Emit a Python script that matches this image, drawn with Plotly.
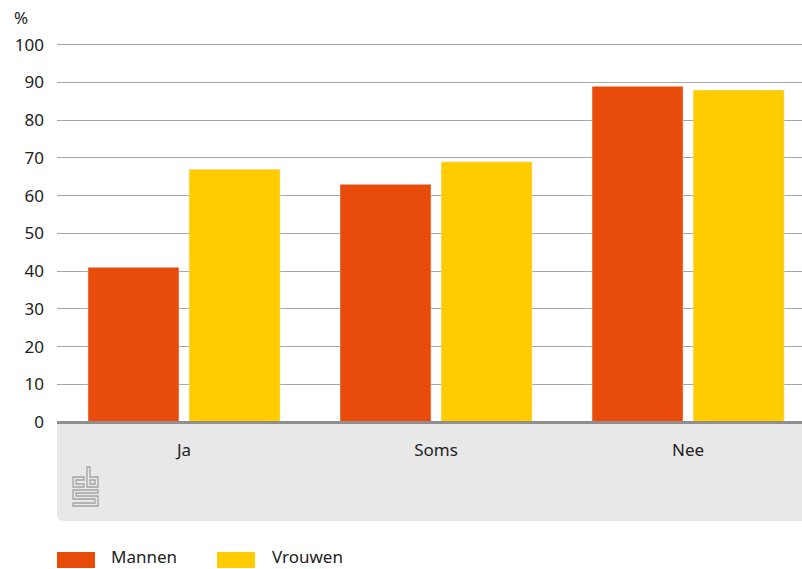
import plotly.graph_objects as go

categories = ["Ja", "Soms", "Nee"]
mannen = [41, 63, 89]
vrouwen = [67, 69, 88]
series_names = ["Mannen", "Vrouwen"]
y_ticks = [0, 10, 20, 30, 40, 50, 60, 70, 80, 90, 100]

ORANGE = "#e94c0a"
YELLOW = "#ffcc00"
FONT = "Noto Sans"
W, H = 802, 569
L, R, T, B = 57, 0, 41, 147
PW, PH = W - L - R, H - T - B


def px(x):
    return (x - L) / PW


def py(y):
    return (H - B - y) / PH


fig = go.Figure()
fig.add_trace(go.Bar(x=categories, y=mannen, name=series_names[0], marker_color=ORANGE))
fig.add_trace(go.Bar(x=categories, y=vrouwen, name=series_names[1], marker_color=YELLOW))

shapes = []
# grey band below axis with rounded bottom-left corner
r = 7
bx0, bx1, by0, by1 = 57, 802, 422, 521
path = (f"M {px(bx0)},{py(by0)} L {px(bx1)},{py(by0)} L {px(bx1)},{py(by1)} "
        f"L {px(bx0 + r)},{py(by1)} Q {px(bx0)},{py(by1)} {px(bx0)},{py(by1 - r)} Z")
shapes.append(dict(type="path", xref="paper", yref="paper", path=path,
                   fillcolor="#e8e8e8", line=dict(width=0), layer="below"))
# zero line
shapes.append(dict(type="line", xref="paper", yref="paper", x0=px(57), x1=px(802),
                   y0=py(422.5), y1=py(422.5), line=dict(color="#8f8f8f", width=3), layer="above"))

# CBS logo (outline)
ox, oy = 73, 467


def lp(pts):
    s = "M " + " L ".join(f"{px(ox + a)},{py(oy + b)}" for a, b in pts) + " Z"
    return s


logo_paths = [
    [(0, 10), (11, 10), (11, 13), (3, 13), (3, 17), (11, 17), (11, 20), (0, 20)],
    [(14, 0), (17, 0), (17, 10), (25, 10), (25, 20), (14, 20)],
    [(17, 13), (22, 13), (22, 17), (17, 17)],
    [(0, 23), (25, 23), (25, 26), (3, 26), (3, 29), (25, 29), (25, 39), (0, 39),
     (0, 36), (22, 36), (22, 32), (0, 32)],
]
for p in logo_paths:
    shapes.append(dict(type="path", xref="paper", yref="paper", path=lp(p),
                       line=dict(color="#a3a3a3", width=1.3), fillcolor="rgba(0,0,0,0)"))

# legend swatches
legend_items = [(57, 110, ORANGE, series_names[0]), (217, 271, YELLOW, series_names[1])]
annotations = []
for sx, tx, col, name in legend_items:
    shapes.append(dict(type="rect", xref="paper", yref="paper", x0=px(sx), x1=px(sx + 38),
                       y0=py(552), y1=py(568), fillcolor=col, line=dict(width=0)))
    annotations.append(dict(text=name, xref="paper", yref="paper", x=px(tx), y=py(569),
                            xanchor="left", yanchor="bottom", showarrow=False, borderpad=0,
                            font=dict(family=FONT, size=17, color="#222222")))

annotations.append(dict(text="%", xref="paper", yref="paper", x=px(12), y=py(18),
                        xanchor="left", yanchor="middle", showarrow=False,
                        font=dict(family=FONT, size=17, color="#222222")))

fig.update_layout(
    width=W, height=H,
    margin=dict(l=L, r=R, t=T, b=B, autoexpand=False),
    paper_bgcolor="white", plot_bgcolor="white",
    barmode="group", bargap=0.198, bargroupgap=0.099,
    showlegend=False,
    font=dict(family=FONT, size=17, color="#222222"),
    shapes=shapes, annotations=annotations,
    xaxis=dict(range=[-0.504, 2.452], showgrid=False, zeroline=False, showline=False,
               ticks="", ticklabelstandoff=16, tickfont=dict(size=17)),
    yaxis=dict(range=[0, 101], tickvals=y_ticks, showgrid=True, gridcolor="#a6a6a6",
               gridwidth=1, zeroline=False, showline=False, ticks="",
               ticklabelstandoff=12, tickfont=dict(size=17)),
)

fig.write_html("out.html", config={"displayModeBar": False},
               post_script="document.body.style.margin='0';document.body.style.overflow='hidden';")
